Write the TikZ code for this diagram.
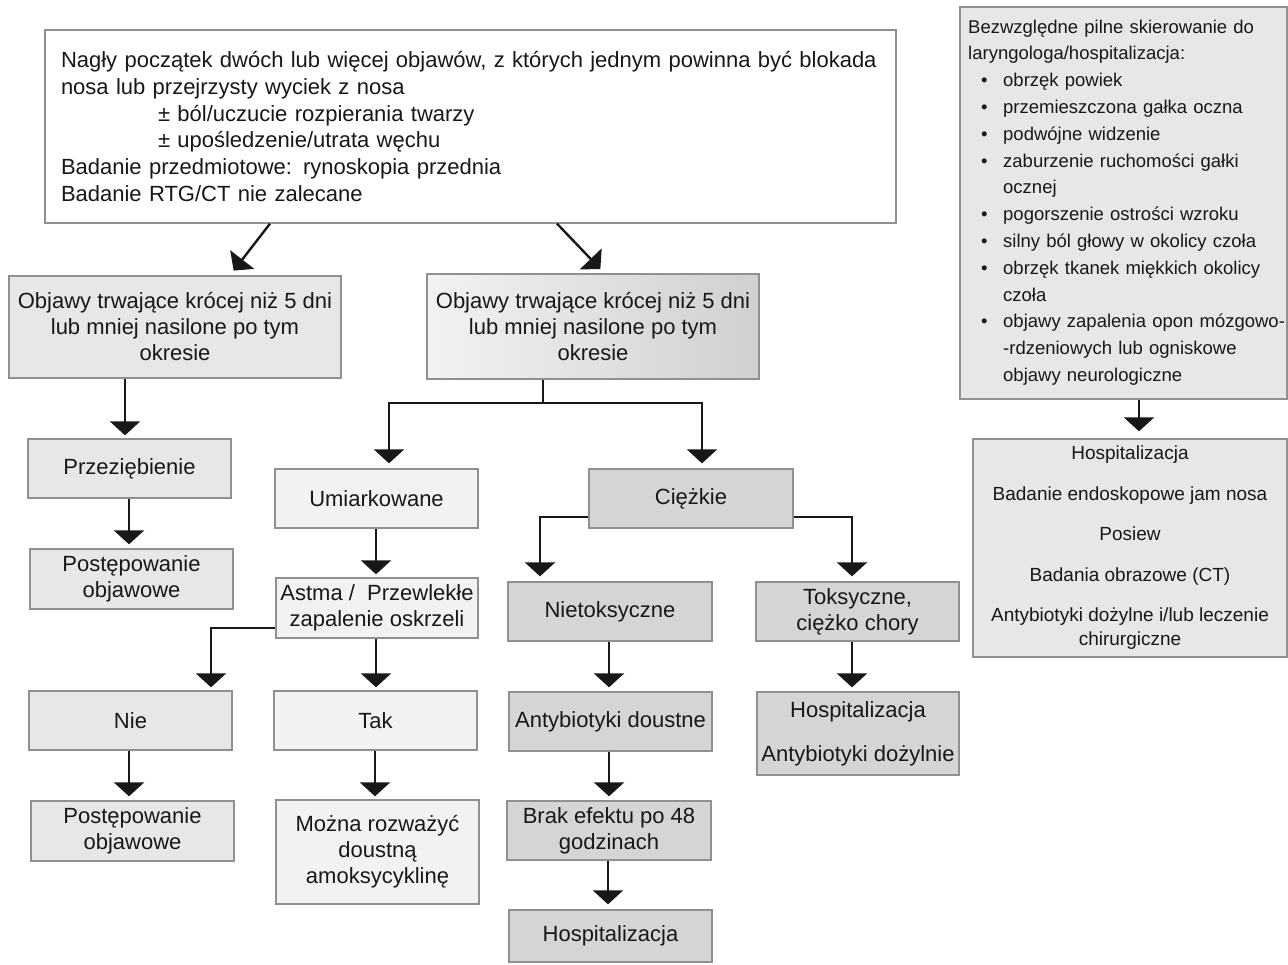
\documentclass[tikz,border=0pt]{standalone}
\usepackage{fontspec}
\setmainfont{Liberation Sans}
\usetikzlibrary{arrows.meta,calc}
\definecolor{ink}{HTML}{1A1718}
\definecolor{edge}{HTML}{8F9092}
\definecolor{fillL}{HTML}{F1F2F3}
\definecolor{fillM}{HTML}{E6E7E8}
\definecolor{fillD}{HTML}{D4D5D7}
\definecolor{fillB}{HTML}{CFD0D2}
\newcommand\listdot{\hspace*{13pt}\makebox[22pt][l]{•}}
\newcommand\listgap{\hspace*{35pt}}
\begin{document}
\begin{tikzpicture}[x=1pt,y=-1pt,
  box/.style={draw=edge, line width=1.3pt, inner sep=0pt, align=center, text=ink,
    font=\fontsize{22}{26}\selectfont},
  light/.style={box, fill=fillL},
  mid/.style={box, fill=fillM},
  dark/.style={box, fill=fillD},
  small/.style={minimum width=203pt, minimum height=59pt},
  flow/.style={draw=ink, line width=2.4pt, -{Triangle[width=30pt,length=14pt]}}]
\useasboundingbox (0,0) rectangle (1288,964);

% starting box
\node[box, fill=white, minimum width=851pt, minimum height=193pt, text width=819pt,
  align=left, font=\fontsize{22}{26.7}\selectfont] (top) at (470.5,126.5)
  {Nagły początek dwóch lub więcej objawów, z których jednym powinna być blokada\\
   nosa lub przejrzysty wyciek z nosa\\
   \hspace*{97pt}± ból/uczucie rozpierania twarzy\\
   \hspace*{97pt}± upośledzenie/utrata węchu\\
   Badanie przedmiotowe: rynoskopia przednia\\
   Badanie RTG/CT nie zalecane};

% duration boxes
\node[mid, minimum width=332pt, minimum height=102pt] (durA) at (175,327)
  {Objawy trwające krócej niż 5 dni\\lub mniej nasilone po tym\\okresie};
\node[box, left color=fillL, right color=fillB, minimum width=332pt, minimum height=105pt]
  (durB) at (593,326.5)
  {Objawy trwające krócej niż 5 dni\\lub mniej nasilone po tym\\okresie};

% left branch
\node[mid, small] (cold) at (129.5,468.5) {Przeziębienie};
\node[mid, small, minimum height=60pt] (symp1) at (131.5,579) {Postępowanie\\objawowe};

% moderate branch
\node[light, small] (mod) at (376.5,498.5) {Umiarkowane};
\node[light, small, minimum width=202pt, minimum height=60pt] (asthma) at (377,608)
  {Astma /\ \ Przewlekłe\\zapalenie oskrzeli};
\node[mid, small] (no) at (130.5,720.5) {Nie};
\node[light, small] (yes) at (375.5,720.5) {Tak};
\node[mid, small, minimum height=60pt] (symp2) at (132.5,831) {Postępowanie\\objawowe};
\node[light, small, minimum height=104pt] (amox) at (377.5,852)
  {Można rozważyć\\doustną\\amoksycyklinę};

% severe branch
\node[dark, small, minimum width=204pt] (severe) at (691,498.5) {Ciężkie};
\node[dark, small, minimum width=204pt] (nontox) at (610,611.5) {Nietoksyczne};
\node[dark, small] (tox) at (857.5,611.5) {Toksyczne,\\ciężko chory};
\node[dark, small] (oral) at (610.5,721.5) {Antybiotyki doustne};
\node[dark, small, minimum width=204pt] (noeff) at (609,830.5) {Brak efektu po 48\\godzinach};
\node[dark, small, minimum height=52pt] (hosp) at (610.5,936) {Hospitalizacja};
\node[dark, small, minimum width=202pt, minimum height=83pt] (hospiv) at (858,733.5)
  {Hospitalizacja\\[18pt]Antybiotyki dożylnie};

% urgent referral panel
\node[mid, minimum width=327pt, minimum height=392pt] (urgent) at (1123.5,203) {};
\node[anchor=west, inner sep=0pt, text width=318pt, align=left, text=ink,
  font=\fontsize{18.5}{26.8}\selectfont] at (968,202.5)
  {Bezwzględne pilne skierowanie do\\
   laryngologa/hospitalizacja:\\
   \listdot obrzęk powiek\\
   \listdot przemieszczona gałka oczna\\
   \listdot podwójne widzenie\\
   \listdot zaburzenie ruchomości gałki\\
   \listgap ocznej\\
   \listdot pogorszenie ostrości wzroku\\
   \listdot silny ból głowy w okolicy czoła\\
   \listdot obrzęk tkanek miękkich okolicy\\
   \listgap czoła\\
   \listdot objawy zapalenia opon mózgowo-\\
   \listgap -rdzeniowych lub ogniskowe\\
   \listgap objawy neurologiczne};
\node[mid, minimum width=314pt, minimum height=218pt, font=\fontsize{19}{24}\selectfont]
  (ward) at (1130,548)
  {Hospitalizacja\\[16.5pt]
   Badanie endoskopowe jam nosa\\[16.5pt]
   Posiew\\[16.5pt]
   Badania obrazowe (CT)\\[16.5pt]
   Antybiotyki dożylne i/lub leczenie\\
   chirurgiczne};

% connectors
\draw[flow, shorten >=6pt] (top.south -| 270,0) -- (durA.north -| 230,0);
\draw[flow, shorten >=6pt] (top.south -| 557,0) -- (durB.north -| 604.5,0);

\draw[flow, shorten >=3pt] (durA.south -| 125,0) -- (cold.north -| 125,0);
\draw[flow, shorten >=4pt] (cold.south -| 129,0) -- (symp1.north -| 129,0);

\coordinate (split) at (543,403);
\draw[draw=ink, line width=2.4pt] (durB.south -| split) -- (split);
\draw[flow, shorten >=5pt] (split) -| (mod.north -| 389,0);
\draw[flow, shorten >=5pt] (split) -| (severe.north -| 702,0);

\draw[flow, shorten >=3pt] (mod.south -| 376,0) -- (asthma.north -| 376,0);
\draw[flow, shorten >=3pt] (asthma.west |- 0,628) -| (no.north -| 211,0);
\draw[flow, shorten >=3pt] (asthma.south -| 376,0) -- (yes.north -| 376,0);
\draw[flow, shorten >=4pt] (no.south -| 129,0) -- (symp2.north -| 129,0);
\draw[flow, shorten >=3pt] (yes.south -| 375,0) -- (amox.north -| 375,0);

\draw[flow, shorten >=5pt] (severe.west |- 0,517) -| (nontox.north -| 540,0);
\draw[flow, shorten >=5pt] (severe.east |- 0,517) -| (tox.north -| 852,0);
\draw[flow, shorten >=4pt] (nontox.south -| 609,0) -- (oral.north -| 609,0);
\draw[flow, shorten >=4pt] (oral.south -| 609,0) -- (noeff.north -| 609,0);
\draw[flow, shorten >=5pt] (noeff.south -| 608,0) -- (hosp.north -| 608,0);
\draw[flow, shorten >=4pt] (tox.south -| 852,0) -- (hospiv.north -| 852,0);

\draw[flow, shorten >=7pt] (urgent.south -| 1139,0) -- (ward.north -| 1139,0);
\end{tikzpicture}
\end{document}
